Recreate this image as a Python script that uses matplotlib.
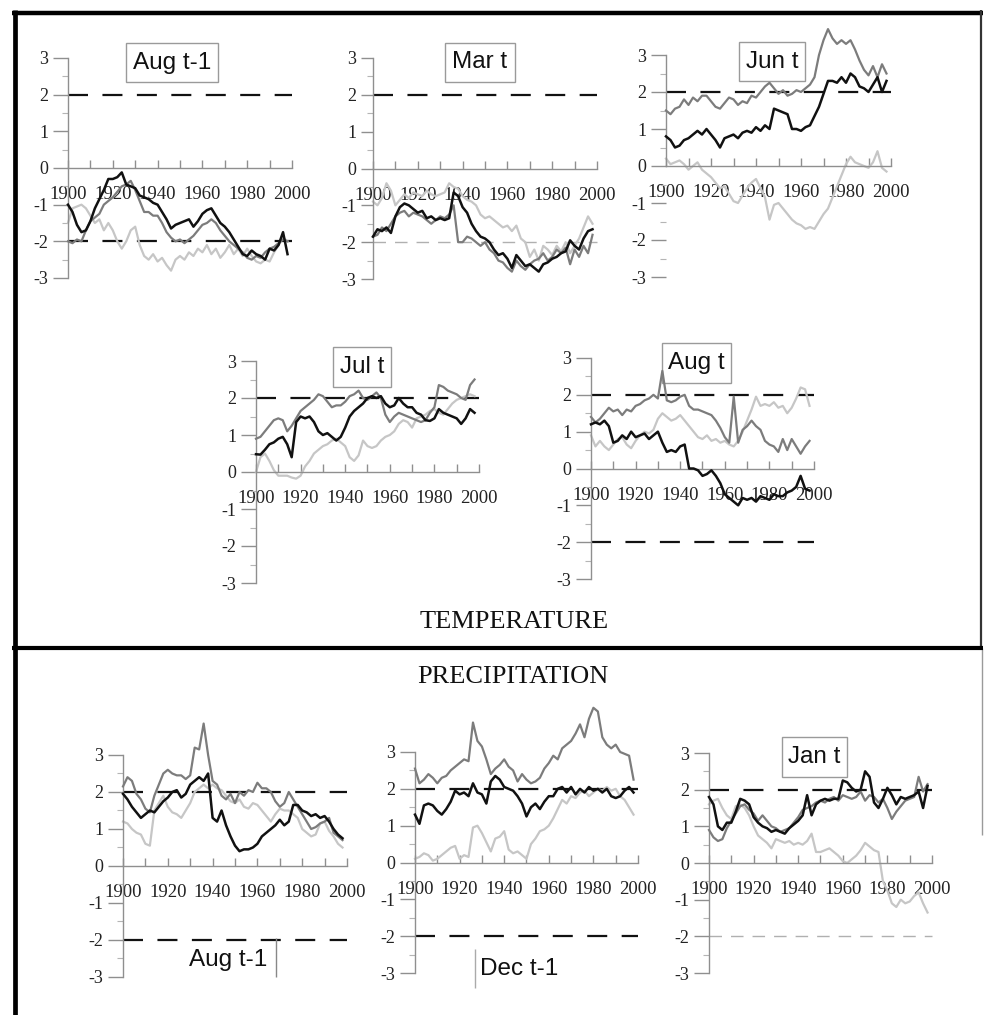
# moving correlation t-values, temperature / precipitation months
import numpy as np
import matplotlib
matplotlib.use("Agg")
import matplotlib.pyplot as plt
from matplotlib.lines import Line2D
from matplotlib.patches import Rectangle
from matplotlib.ticker import FixedLocator

# ------------------------------------------------------------------ #
#                               DATA                                 #
# ------------------------------------------------------------------ #
YEARS = np.arange(1900, 2000, 2)

# temperature, Aug t-1
T_AUG1_BLACK = [-1.0, -1.2, -1.55, -1.75, -1.7, -1.45, -1.1, -0.85, -0.6, -0.3,
                -0.3, -0.25, -0.12, -0.45, -0.5, -0.55, -0.75, -0.8, -0.85, -0.95,
                -1.0, -1.2, -1.4, -1.65, -1.55, -1.5, -1.45, -1.4, -1.6, -1.45,
                -1.25, -1.15, -1.1, -1.3, -1.5, -1.6, -1.75, -1.95, -2.15, -2.35,
                -2.4, -2.25, -2.35, -2.4, -2.5, -2.2, -2.25, -2.1, -1.75, -2.35]
T_AUG1_DARK = [-2.0, -2.05, -1.95, -2.0, -1.7, -1.45, -1.35, -1.25, -1.0, -0.9,
               -0.8, -0.65, -0.5, -0.45, -0.35, -0.6, -0.9, -1.2, -1.2, -1.3,
               -1.3, -1.5, -1.75, -1.9, -2.0, -1.95, -2.05, -1.95, -1.85, -1.7,
               -1.55, -1.5, -1.4, -1.5, -1.7, -1.85, -2.0, -2.1, -2.2, -2.3,
               -2.45, -2.5, -2.4, -2.45, -2.3, -2.2, -2.15, -2.05, -1.95, -2.0]
T_AUG1_LIGHT = [-1.5, -1.1, -1.05, -1.0, -1.1, -1.3, -1.5, -1.4, -1.7, -1.5,
                -1.7, -2.0, -2.2, -2.0, -1.7, -1.6, -2.1, -2.4, -2.5, -2.35,
                -2.55, -2.45, -2.65, -2.8, -2.5, -2.4, -2.5, -2.3, -2.4, -2.2,
                -2.3, -2.1, -2.35, -2.2, -2.45, -2.3, -2.1, -2.35, -2.2, -2.4,
                -2.2, -2.4, -2.55, -2.6, -2.5, -2.55, -2.3, -2.1, -1.9, -2.0]

# temperature, Mar t
T_MAR_BLACK = [-1.85, -1.65, -1.7, -1.6, -1.75, -1.3, -1.05, -0.95, -1.0, -1.1,
               -1.2, -1.15, -1.35, -1.3, -1.4, -1.35, -1.4, -1.35, -0.65, -0.75,
               -1.05, -1.2, -1.5, -1.7, -1.85, -1.9, -2.0, -2.2, -2.35, -2.3,
               -2.45, -2.7, -2.35, -2.5, -2.65, -2.6, -2.7, -2.8, -2.6, -2.55,
               -2.45, -2.4, -2.3, -2.25, -1.95, -2.1, -2.2, -1.9, -1.7, -1.65]
T_MAR_DARK = [-1.85, -1.8, -1.6, -1.7, -1.5, -1.3, -1.2, -1.15, -1.3, -1.2,
              -1.25, -1.3, -1.4, -1.5, -1.4, -1.3, -1.35, -1.25, -1.0, -2.0,
              -2.0, -1.85, -1.9, -2.0, -2.1, -2.0, -2.2, -2.3, -2.5, -2.55,
              -2.7, -2.8, -2.5, -2.65, -2.75, -2.6, -2.5, -2.45, -2.3, -2.5,
              -2.4, -2.2, -2.3, -2.15, -2.6, -2.2, -2.4, -2.1, -2.3, -1.8]
T_MAR_LIGHT = [-0.9, -1.0, -0.8, -0.4, -0.6, -1.0, -0.85, -0.7, -0.8, -0.65,
               -0.7, -0.75, -0.6, -0.7, -0.75, -0.7, -0.65, -0.4, -0.5, -0.55,
               -0.75, -0.85, -0.9, -1.0, -1.25, -1.35, -1.3, -1.4, -1.5, -1.6,
               -1.55, -1.7, -1.55, -1.9, -2.0, -2.4, -2.2, -2.5, -2.1, -2.2,
               -2.35, -2.1, -2.25, -2.0, -2.3, -2.1, -1.9, -1.6, -1.3, -1.5]

# temperature, Jun t
T_JUN_BLACK = [0.8, 0.7, 0.5, 0.55, 0.7, 0.75, 0.85, 0.95, 0.85, 1.0,
               0.85, 0.7, 0.5, 0.75, 0.8, 0.85, 0.75, 0.9, 0.95, 0.9,
               1.05, 0.95, 1.1, 1.0, 1.55, 1.5, 1.45, 1.4, 1.0, 1.0,
               0.95, 1.05, 1.1, 1.35, 1.6, 1.95, 2.3, 2.3, 2.25, 2.4,
               2.25, 2.5, 2.4, 2.15, 2.1, 2.0, 2.2, 2.4, 2.0, 2.3]
T_JUN_DARK = [1.5, 1.4, 1.55, 1.6, 1.8, 1.65, 1.85, 1.75, 1.9, 1.9,
              1.75, 1.6, 1.55, 1.7, 1.85, 1.8, 1.65, 1.75, 1.7, 1.9,
              1.85, 2.0, 2.15, 2.25, 2.1, 1.95, 2.05, 1.9, 1.95, 2.05,
              2.0, 2.1, 2.2, 2.4, 3.0, 3.4, 3.7, 3.45, 3.3, 3.4,
              3.3, 3.4, 3.15, 2.85, 2.6, 2.45, 2.7, 2.4, 2.75, 2.5]
T_JUN_LIGHT = [0.2, 0.05, 0.1, 0.15, 0.05, -0.1, 0.0, 0.1, -0.1, -0.2,
               -0.3, -0.45, -0.6, -0.55, -0.75, -0.95, -1.0, -0.8, -0.6, -0.45,
               -0.35, -0.6, -0.85, -1.45, -1.05, -1.0, -1.15, -1.3, -1.45, -1.55,
               -1.6, -1.7, -1.65, -1.7, -1.5, -1.3, -1.15, -0.85, -0.55, -0.25,
               0.05, 0.25, 0.1, 0.05, 0.0, -0.05, 0.1, 0.4, -0.05, -0.15]

# temperature, Jul t
T_JUL_BLACK = [0.48, 0.47, 0.6, 0.75, 0.8, 0.9, 0.95, 0.75, 0.4, 1.35,
               1.5, 1.45, 1.5, 1.35, 1.1, 1.0, 1.05, 0.95, 0.85, 0.95,
               1.2, 1.5, 1.65, 1.75, 1.85, 2.0, 2.05, 2.0, 2.05, 1.85,
               1.75, 1.8, 2.0, 1.85, 1.75, 1.75, 1.6, 1.55, 1.4, 1.38,
               1.45, 1.7, 1.6, 1.55, 1.5, 1.45, 1.3, 1.45, 1.7, 1.6]
T_JUL_DARK = [0.9, 0.95, 1.1, 1.25, 1.4, 1.45, 1.4, 1.1, 1.25, 1.45,
              1.65, 1.75, 1.85, 1.95, 2.1, 2.05, 1.9, 1.75, 1.8, 1.8,
              1.9, 2.05, 2.1, 2.2, 2.0, 1.95, 2.05, 2.15, 2.0, 1.55,
              1.35, 1.5, 1.6, 1.55, 1.5, 1.45, 1.4, 1.35, 1.4, 1.6,
              1.75, 2.35, 2.3, 2.2, 2.15, 2.1, 2.0, 1.95, 2.35, 2.5]
T_JUL_LIGHT = [0.0, 0.4, 0.5, 0.3, 0.05, -0.1, -0.1, -0.1, -0.15, -0.18,
               -0.1, 0.15, 0.3, 0.5, 0.6, 0.7, 0.75, 0.85, 0.9, 0.8,
               0.7, 0.4, 0.3, 0.45, 0.85, 0.7, 0.65, 0.7, 0.85, 0.95,
               1.0, 1.1, 1.3, 1.4, 1.35, 1.2, 1.45, 1.5, 1.55, 1.65,
               1.7, 1.6, 1.55, 1.7, 1.85, 1.95, 2.0, 2.05, 2.1, 2.05]

# temperature, Aug t
T_AUG_BLACK = [1.2, 1.25, 1.2, 1.3, 1.15, 0.7, 0.75, 0.9, 0.8, 1.0,
               0.85, 0.9, 0.95, 0.8, 0.9, 1.0, 0.7, 0.45, 0.5, 0.45,
               0.6, 0.65, 0.0, 0.0, -0.05, -0.2, -0.15, -0.05, -0.2, -0.4,
               -0.7, -0.8, -0.9, -1.0, -0.8, -0.85, -0.8, -0.9, -0.75, -0.8,
               -0.85, -0.7, -0.75, -0.75, -0.65, -0.6, -0.5, -0.2, -0.55, -0.6]
T_AUG_DARK = [1.4, 1.25, 1.35, 1.5, 1.65, 1.55, 1.6, 1.45, 1.6, 1.55,
              1.7, 1.75, 1.85, 1.9, 2.0, 1.9, 2.65, 1.85, 1.8, 1.85,
              1.95, 2.0, 1.7, 1.6, 1.6, 1.55, 1.5, 1.45, 1.3, 1.1,
              0.85, 0.7, 1.95, 0.7, 1.05, 1.15, 1.3, 1.15, 1.05, 0.75,
              0.65, 0.6, 0.45, 0.8, 0.5, 0.8, 0.6, 0.4, 0.6, 0.75]
T_AUG_LIGHT = [0.9, 0.6, 0.75, 0.6, 0.5, 0.65, 0.8, 0.85, 0.65, 0.55,
               0.75, 0.9, 1.0, 0.95, 1.05, 1.35, 1.5, 1.4, 1.3, 1.35,
               1.45, 1.3, 1.15, 1.0, 0.85, 0.8, 0.9, 0.75, 0.8, 0.7,
               0.75, 0.65, 0.6, 0.75, 1.0, 1.3, 1.6, 1.95, 1.7, 1.75,
               1.7, 1.8, 1.65, 1.7, 1.5, 1.65, 1.9, 2.2, 2.15, 1.7]

# precipitation, Aug t-1
P_AUG1_BLACK = [1.95, 1.8, 1.6, 1.45, 1.3, 1.4, 1.5, 1.45, 1.6, 1.75,
                1.85, 2.0, 2.05, 1.85, 1.95, 2.2, 2.3, 2.4, 2.3, 2.5,
                1.3, 1.2, 1.5, 1.1, 0.8, 0.55, 0.4, 0.45, 0.45, 0.5,
                0.6, 0.8, 0.9, 1.0, 1.1, 1.25, 1.1, 1.2, 1.65, 1.65,
                1.5, 1.45, 1.35, 1.4, 1.3, 1.35, 1.2, 1.0, 0.85, 0.75]
P_AUG1_DARK = [2.15, 2.4, 2.3, 1.95, 1.8, 1.55, 1.45, 1.9, 2.2, 2.5,
               2.6, 2.5, 2.45, 2.45, 2.35, 2.45, 3.2, 3.15, 3.85, 3.0,
               2.3, 2.2, 1.9, 1.8, 1.95, 1.7, 2.0, 1.9, 2.05, 2.0,
               2.25, 2.1, 2.1, 2.0, 1.75, 1.6, 1.7, 2.0, 1.8, 1.6,
               1.4, 1.2, 1.0, 1.05, 1.15, 1.2, 1.3, 0.9, 0.8, 0.7]
P_AUG1_LIGHT = [1.2, 1.15, 1.0, 0.9, 0.85, 0.6, 0.55, 1.5, 1.7, 1.9,
                1.6, 1.45, 1.4, 1.3, 1.5, 1.7, 2.0, 2.1, 2.2, 2.1,
                2.2, 2.1, 2.05, 1.9, 1.75, 1.7, 1.8, 1.6, 1.55, 1.7,
                1.65, 1.5, 1.35, 1.2, 1.4, 1.55, 1.5, 1.5, 1.4, 1.3,
                1.0, 0.9, 0.8, 0.85, 1.15, 1.2, 0.95, 0.8, 0.6, 0.5]

# precipitation, Dec t-1
P_DEC1_BLACK = [1.3, 1.05, 1.55, 1.6, 1.55, 1.4, 1.3, 1.45, 1.65, 1.95,
                1.85, 1.9, 1.8, 2.15, 1.9, 1.85, 1.6, 2.2, 2.35, 2.25,
                2.05, 2.0, 1.95, 1.8, 1.6, 1.25, 1.5, 1.6, 1.45, 1.65,
                1.8, 1.8, 2.0, 2.05, 1.9, 2.05, 1.85, 2.0, 1.9, 2.05,
                1.95, 2.0, 1.9, 2.0, 1.8, 1.75, 1.8, 1.95, 2.05, 1.9]
P_DEC1_DARK = [2.55, 2.15, 2.25, 2.4, 2.3, 2.15, 2.3, 2.35, 2.5, 2.6,
               2.7, 2.8, 2.75, 3.8, 3.3, 3.15, 2.8, 2.4, 2.55, 2.65,
               2.8, 2.6, 2.5, 2.2, 2.4, 2.25, 2.15, 2.2, 2.3, 2.55,
               2.7, 2.9, 2.8, 3.1, 3.2, 3.3, 3.5, 3.75, 3.4, 3.9,
               4.2, 4.1, 3.4, 3.2, 3.1, 3.2, 3.0, 2.95, 2.9, 2.25]
P_DEC1_LIGHT = [0.1, 0.15, 0.25, 0.2, 0.05, 0.1, 0.2, 0.3, 0.4, 0.45,
                0.1, 0.2, 0.15, 0.95, 1.0, 0.8, 0.55, 0.3, 0.65, 0.7,
                0.85, 0.35, 0.25, 0.3, 0.2, 0.1, 0.5, 0.65, 0.85, 0.9,
                1.0, 1.2, 1.45, 1.7, 1.6, 1.8, 1.75, 1.9, 1.95, 1.8,
                1.9, 2.0, 1.95, 2.05, 1.95, 2.0, 1.8, 1.7, 1.5, 1.3]

# precipitation, Jan t
P_JAN_BLACK = [1.8, 1.6, 1.0, 0.9, 1.1, 1.1, 1.4, 1.75, 1.7, 1.6,
               1.25, 1.1, 1.0, 0.95, 0.85, 0.9, 0.85, 0.8, 0.95, 1.05,
               1.15, 1.3, 1.85, 1.3, 1.6, 1.7, 1.75, 1.7, 1.75, 1.75,
               2.25, 2.2, 2.05, 1.95, 2.0, 2.5, 2.35, 1.65, 1.5, 1.75,
               2.05, 1.85, 1.6, 1.8, 1.75, 1.8, 1.85, 1.95, 1.5, 2.1]
P_JAN_DARK = [0.9, 0.7, 0.6, 0.65, 0.95, 1.15, 1.35, 1.55, 1.6, 1.45,
              1.35, 1.15, 1.3, 1.15, 1.0, 0.95, 0.85, 0.9, 0.95, 1.1,
              1.25, 1.45, 1.5, 1.55, 1.65, 1.7, 1.65, 1.75, 1.8, 1.7,
              1.85, 1.8, 1.75, 1.8, 1.95, 1.7, 1.85, 1.8, 1.65, 1.75,
              1.5, 1.2, 1.4, 1.55, 1.7, 1.75, 1.8, 2.35, 1.95, 2.15]
P_JAN_LIGHT = [1.6, 1.7, 1.75, 1.5, 1.3, 1.2, 1.55, 1.6, 1.5, 1.3,
               1.0, 0.75, 0.65, 0.55, 0.4, 0.65, 0.6, 0.55, 0.6, 0.5,
               0.55, 0.5, 0.6, 0.8, 0.3, 0.3, 0.35, 0.4, 0.3, 0.2,
               0.05, 0.0, 0.1, 0.2, 0.35, 0.55, 0.45, 0.35, 0.3, -0.5,
               -0.75, -1.1, -1.2, -1.0, -1.1, -1.05, -0.9, -0.8, -1.1, -1.35]

# ------------------------------------------------------------------ #
#                              STYLE                                 #
# ------------------------------------------------------------------ #
W, H = 984, 1015
BLACK = "#111111"
DARK = "#7c7c7c"
LIGHT = "#c6c6c6"
AXIS_GRAY = "#8f8f8f"
DASH = (0, (9.0, 6.5))

plt.rcParams["font.family"] = ["Liberation Serif", "DejaVu Serif"]
plt.rcParams["axes.unicode_minus"] = False

fig = plt.figure(figsize=(W / 100, H / 100), dpi=100)

# pixel layout of each panel: x of 1900, x of 2000, y of +3, y of -3
PANELS = [
    dict(px=(68, 292, 58, 278), series=(T_AUG1_LIGHT, T_AUG1_DARK, T_AUG1_BLACK),
         lower="black", ylen=11),
    dict(px=(373, 597, 58, 279), series=(T_MAR_LIGHT, T_MAR_DARK, T_MAR_BLACK),
         lower="light", ylen=9),
    dict(px=(666, 891, 55, 277), series=(T_JUN_LIGHT, T_JUN_DARK, T_JUN_BLACK),
         lower=None, ylen=11, half_spine=True),
    dict(px=(256, 479, 361, 583), series=(T_JUL_LIGHT, T_JUL_DARK, T_JUL_BLACK),
         lower=None, ylen=11),
    dict(px=(591, 814, 358, 579), series=(T_AUG_LIGHT, T_AUG_DARK, T_AUG_BLACK),
         lower="black", ylen=11),
    dict(px=(123, 347, 755, 977), series=(P_AUG1_LIGHT, P_AUG1_DARK, P_AUG1_BLACK),
         lower="black", ylen=11),
    dict(px=(415, 638, 752, 973), series=(P_DEC1_LIGHT, P_DEC1_DARK, P_DEC1_BLACK),
         lower="black", ylen=11),
    dict(px=(709, 932, 753, 973), series=(P_JAN_LIGHT, P_JAN_DARK, P_JAN_BLACK),
         lower="light", ylen=11),
]


def panel_axes(x1900, x2000, y3, ym3):
    sx = (x2000 - x1900) / 100
    sy = (ym3 - y3) / 6
    left = x1900 - 10 * sx
    top = y3 - 1.6 * sy
    ax = fig.add_axes([left / W, 1 - (top + 8.2 * sy) / H, 120 * sx / W, 8.2 * sy / H])
    ax.set_xlim(1890, 2010)
    ax.set_ylim(-3.6, 4.6)
    return ax


for p in PANELS:
    ax = panel_axes(*p["px"])
    ax.set_zorder(2)
    ax.patch.set_visible(False)
    ax.spines["top"].set_visible(False)
    ax.spines["right"].set_visible(False)
    ax.spines["left"].set_position(("data", 1900))
    ax.spines["bottom"].set_position(("data", 0))
    ax.spines["left"].set_bounds(0 if p.get("half_spine") else -3, 3)
    ax.spines["bottom"].set_bounds(1900, 2000)
    for s in ("left", "bottom"):
        ax.spines[s].set_color(AXIS_GRAY)
        ax.spines[s].set_linewidth(1.0)

    ax.set_yticks(range(-3, 4))
    ax.yaxis.set_minor_locator(FixedLocator(np.arange(-2.5, 3, 1.0)))
    ax.set_xticks(range(1900, 2001, 20))
    ax.xaxis.set_minor_locator(FixedLocator(range(1910, 2000, 20)))
    ax.tick_params(axis="y", which="major", direction="out", length=p["ylen"],
                   width=1, color=AXIS_GRAY, labelsize=13, pad=3, labelcolor="#222222")
    ax.tick_params(axis="y", which="minor", direction="out", length=4,
                   width=0.8, color="#b5b5b5")
    ax.tick_params(axis="x", which="both", direction="in", length=6,
                   width=1, color=AXIS_GRAY, labelsize=13.5, pad=13, labelcolor="#222222")

    # critical t-value lines
    ax.hlines(2, 1900, 2000, colors=BLACK, linestyles=DASH, lw=1.6, zorder=1)
    if p["lower"] == "black":
        ax.hlines(-2, 1900, 2000, colors=BLACK, linestyles=DASH, lw=1.6, zorder=1)
    elif p["lower"] == "light":
        ax.hlines(-2, 1900, 2000, colors="#b0b0b0", linestyles=DASH, lw=1.0, zorder=1)

    light, dark, black = p["series"]
    ax.plot(YEARS, light, color=LIGHT, lw=1.6, zorder=2)
    ax.plot(YEARS, dark, color=DARK, lw=1.6, zorder=3)
    ax.plot(YEARS, black, color=BLACK, lw=1.8, zorder=4)


# ------------------------------------------------------------------ #
#                       TITLES, BOXES, FRAME                         #
# ------------------------------------------------------------------ #
def box_title(x0, y0, x1, y1, text):
    fig.add_artist(Rectangle((x0 / W, 1 - y1 / H), (x1 - x0) / W, (y1 - y0) / H,
                             transform=fig.transFigure, fc="white", ec="#9a9a9a",
                             lw=1.0, zorder=1))
    fig.text((x0 + x1) / 2 / W, 1 - (y0 + y1) / 2 / H, text, ha="center", va="center",
             fontsize=17.5, family=["Liberation Sans", "DejaVu Sans"], color="#111111",
             zorder=5)


box_title(126, 43, 218, 82, "Aug t-1")
box_title(445, 43, 515, 82, "Mar t")
box_title(739, 42, 805, 81, "Jun t")
box_title(333, 347, 391, 387, "Jul t")
box_title(662, 343, 731, 383, "Aug t")
box_title(782, 737, 847, 777, "Jan t")

fig.text(228 / W, 1 - 960 / H, "Aug t-1", ha="center", va="center", fontsize=17.5,
         family=["Liberation Sans", "DejaVu Sans"], color="#111111")
fig.text(519 / W, 1 - 969 / H, "Dec t-1", ha="center", va="center", fontsize=17.5,
         family=["Liberation Sans", "DejaVu Sans"], color="#111111")


def frame_line(x0, y0, x1, y1, lw, color):
    fig.add_artist(Line2D([x0 / W, x1 / W], [1 - y0 / H, 1 - y1 / H],
                          transform=fig.transFigure, lw=lw, color=color,
                          solid_capstyle="butt", zorder=6))


frame_line(276, 938, 276, 977, 1.0, "#888888")
frame_line(475, 949, 475, 988, 1.0, "#aaaaaa")

fig.text(514 / W, 1 - 622 / H, "TEMPERATURE", ha="center", va="center",
         fontsize=19, color="#111111")
fig.text(513 / W, 1 - 677 / H, "PRECIPITATION", ha="center", va="center",
         fontsize=19, color="#111111")

frame_line(12, 12.5, 983, 12.5, 3.2, "black")
frame_line(14.5, 10, 14.5, 1015, 3.4, "black")
frame_line(981, 10, 981, 648, 1.6, "#333333")
frame_line(982, 648, 982, 835, 1.0, "#9a9a9a")
frame_line(12, 648, 983, 648, 3.0, "black")

fig.savefig("out.png", dpi=100)
